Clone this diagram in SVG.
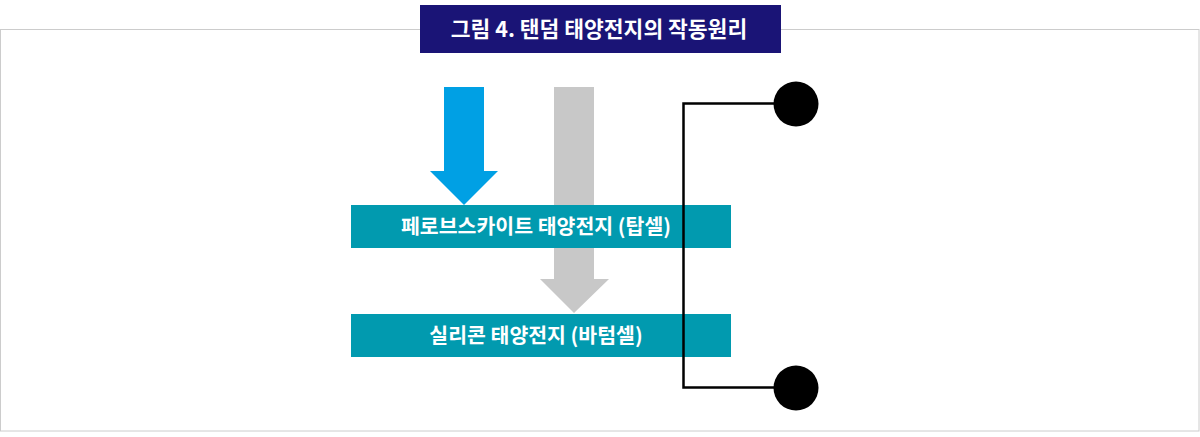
<svg xmlns="http://www.w3.org/2000/svg" width="1200" height="437" viewBox="0 0 1200 437">
<style>
.lbl{font-family:"Noto Sans CJK KR","Noto Sans",sans-serif;font-weight:700;fill:#fff;text-anchor:middle}
.cell{fill:#019aaf}
.wire{fill:none;stroke:#000;stroke-width:2.5}
</style>
<rect x="0.5" y="29.5" width="1198.5" height="401.5" fill="#fff" stroke="#cccccc"/>
<g id="title">
<rect x="420" y="5" width="361" height="48" fill="#1a1476"/>
<text class="lbl" x="599" y="37" font-size="21.5">그림 4. 탠덤 태양전지의 작동원리</text>
</g>
<g id="arrow-blue">
<polygon points="444,87 484,87 484,171 498,171 464,205 430,171 444,171" fill="#00a0e4"/>
</g>
<g id="arrow-gray">
<polygon points="554,87 594,87 594,279 609,279 574,313 540,279 554,279" fill="#c8c8c8"/>
</g>
<g id="top-cell">
<rect class="cell" x="351" y="205" width="380" height="43"/>
<text class="lbl" x="536" y="234" font-size="20.5">페로브스카이트 태양전지 (탑셀)</text>
</g>
<g id="bottom-cell">
<rect class="cell" x="351" y="314" width="380" height="43"/>
<text class="lbl" x="536" y="343" font-size="20.5">실리콘 태양전지 (바텀셀)</text>
</g>
<g id="connectors">
<polyline class="wire" points="796,103.5 683.5,103.5 683.5,387.5 796,387.5"/>
</g>
<g id="terminal-top"><circle cx="796" cy="104" r="22.5" fill="#000"/></g>
<g id="terminal-bottom"><circle cx="796" cy="388" r="22.5" fill="#000"/></g>
</svg>
